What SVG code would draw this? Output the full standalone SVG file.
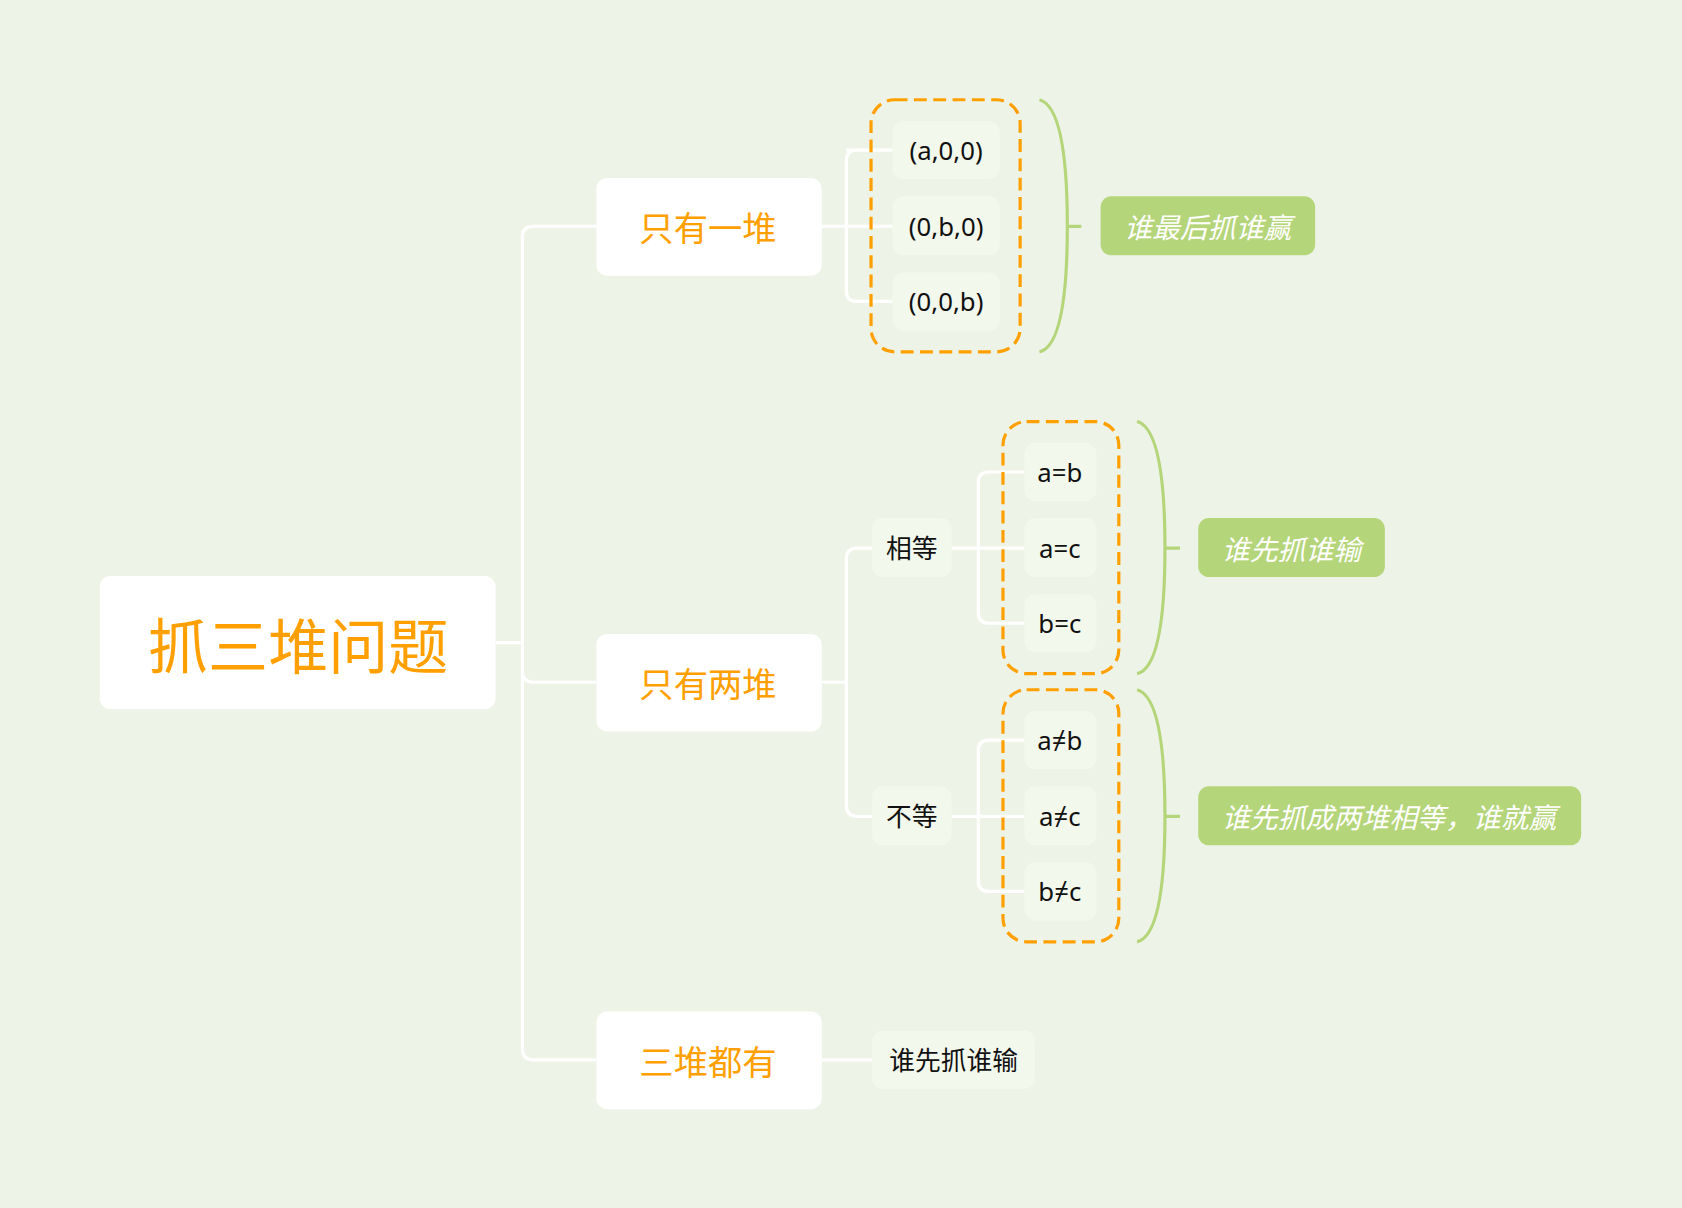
<svg xmlns="http://www.w3.org/2000/svg" width="1682" height="1208" viewBox="0 0 1682 1208">
<style>
.main{fill:#fff}
.mt{font-family:"Noto Sans CJK SC","Noto Sans",sans-serif;fill:#FFA000;text-anchor:middle;dominant-baseline:central}
.leaf{fill:#F3F8EC}
.lt{font-family:"Noto Sans","Noto Sans CJK SC",sans-serif;font-size:24px;fill:#111;text-anchor:middle;dominant-baseline:central}
.ln{fill:none;stroke:#fff;stroke-width:3}
.dash{fill:none;stroke:#FFA000;stroke-width:3;stroke-dasharray:12 6}
.br{fill:none;stroke:#B5D57A;stroke-width:3}
.tag{fill:#B5D57A}
.tt{font-family:"Noto Sans CJK SC",sans-serif;font-size:26px;font-style:italic;fill:#fff;text-anchor:middle;dominant-baseline:central}
</style>
<rect width="1682" height="1208" fill="#EDF4E7"/>
<g transform="scale(1.0727)">
<g id="connectors">
<path class="ln" d="M462 599H487M556 211H497Q487 211 487 221V978Q487 988 497 988H556M487 626Q487 636 497 636H556"/>
<path class="ln" d="M766 211H832M789 140H799M832 140H799Q789 140 789 150V271Q789 281 799 281H832"/>
<path class="ln" d="M766 636H789M813 511H799Q789 511 789 521V751Q789 761 799 761H813"/>
<path class="ln" d="M887 511H955M955 440H922Q912 440 912 450V571Q912 581 922 581H955"/>
<path class="ln" d="M887 761H955M955 690H922Q912 690 912 700V821Q912 831 922 831H955"/>
<path class="ln" d="M766 988H813"/>
</g>
<g id="root"><rect class="main" x="93" y="537" width="369" height="124" rx="10"/><text class="mt" x="278" y="599" font-size="56">抓三堆问题</text></g>
<g id="n1"><rect class="main" x="556" y="166" width="210" height="91" rx="10"/><text class="mt" x="660" y="211" font-size="32">只有一堆</text></g>
<g id="n2"><rect class="main" x="556" y="591" width="210" height="91" rx="10"/><text class="mt" x="660" y="636" font-size="32">只有两堆</text></g>
<g id="n3"><rect class="main" x="556" y="943" width="210" height="91" rx="10"/><text class="mt" x="660" y="988" font-size="32">三堆都有</text></g>
<g id="l1"><rect class="leaf" x="832" y="113" width="100" height="54" rx="10"/><text class="lt" x="882" y="140">(a,0,0)</text></g>
<g id="l2"><rect class="leaf" x="832" y="183" width="100" height="55" rx="10"/><text class="lt" x="882" y="211">(0,b,0)</text></g>
<g id="l3"><rect class="leaf" x="832" y="254" width="100" height="54" rx="10"/><text class="lt" x="882" y="281">(0,0,b)</text></g>
<g id="eq"><rect class="leaf" x="813" y="483" width="74" height="55" rx="10"/><text class="lt" x="850" y="511">相等</text></g>
<g id="ne"><rect class="leaf" x="813" y="733" width="74" height="55" rx="10"/><text class="lt" x="850" y="761">不等</text></g>
<g id="e1"><rect class="leaf" x="955" y="413" width="67" height="54" rx="10"/><text class="lt" x="988" y="440">a=b</text></g>
<g id="e2"><rect class="leaf" x="955" y="483" width="67" height="55" rx="10"/><text class="lt" x="988" y="511">a=c</text></g>
<g id="e3"><rect class="leaf" x="955" y="554" width="67" height="54" rx="10"/><text class="lt" x="988" y="581">b=c</text></g>
<g id="d1"><rect class="leaf" x="955" y="663" width="67" height="54" rx="10"/><text class="lt" x="988" y="690">a≠b</text></g>
<g id="d2"><rect class="leaf" x="955" y="733" width="67" height="55" rx="10"/><text class="lt" x="988" y="761">a≠c</text></g>
<g id="d3"><rect class="leaf" x="955" y="804" width="67" height="54" rx="10"/><text class="lt" x="988" y="831">b≠c</text></g>
<g id="l4"><rect class="leaf" x="813" y="961" width="152" height="54" rx="10"/><text class="lt" x="889" y="988">谁先抓谁输</text></g>
<g id="box1"><rect class="dash" x="812" y="93" width="139" height="235" rx="22"/></g>
<g id="box2"><rect class="dash" x="935" y="393" width="108" height="235" rx="22"/></g>
<g id="box3"><rect class="dash" x="935" y="643" width="108" height="235" rx="22"/></g>
<g id="s1"><path class="br" d="M969 93Q995 100 995 211Q995 322 969 328M995 211H1008"/><rect class="tag" x="1026" y="183" width="200" height="55" rx="10"/><text class="tt" x="1126" y="211">谁最后抓谁赢</text></g>
<g id="s2"><path class="br" d="M1060 393Q1086 400 1086 511Q1086 622 1060 628M1086 511H1100"/><rect class="tag" x="1117" y="483" width="174" height="55" rx="10"/><text class="tt" x="1204" y="511">谁先抓谁输</text></g>
<g id="s3"><path class="br" d="M1060 643Q1086 650 1086 761Q1086 872 1060 878M1086 761H1100"/><rect class="tag" x="1117" y="733" width="357" height="55" rx="10"/><text class="tt" x="1295" y="761">谁先抓成两堆相等，谁就赢</text></g>
</g>
</svg>
